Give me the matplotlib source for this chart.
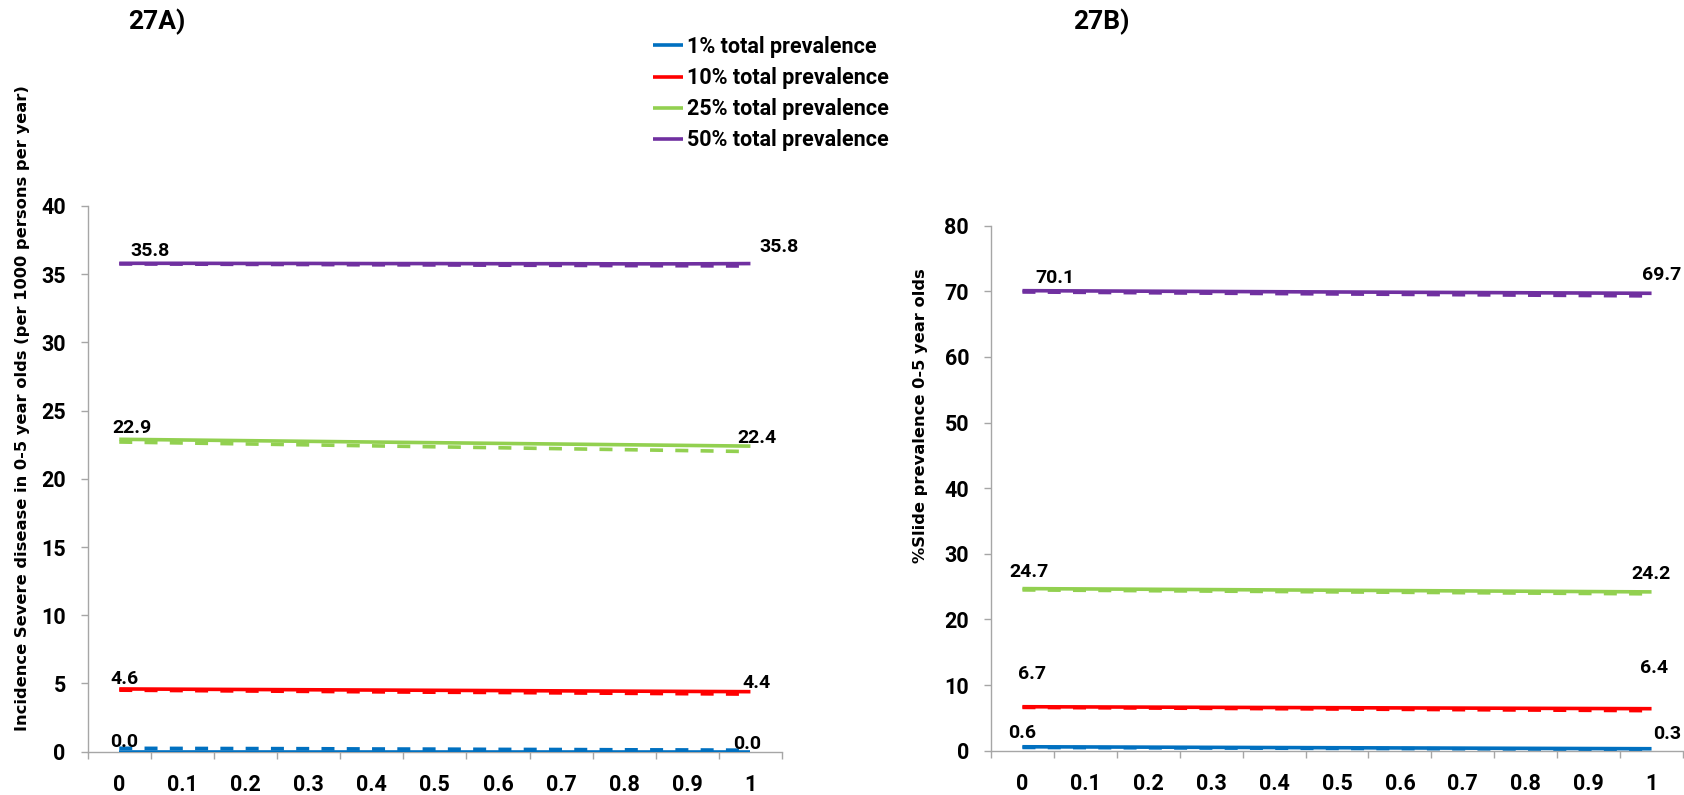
import matplotlib
matplotlib.use("Agg")
import matplotlib.pyplot as plt

# ---------------- data ----------------
x_labels = ['0', '0.1', '0.2', '0.3', '0.4', '0.5', '0.6', '0.7', '0.8', '0.9', '1']
series_names = ['1% total prevalence', '10% total prevalence',
                '25% total prevalence', '50% total prevalence']

# 27A) Incidence of severe disease (solid / dashed variants)
A_blue_solid = [0.0, 0.0, 0.0, 0.0, 0.0, 0.0, 0.0, 0.0, 0.0, 0.0, 0.0]
A_blue_dash = [0.25, 0.24, 0.23, 0.22, 0.20, 0.19, 0.17, 0.16, 0.14, 0.13, 0.11]
A_red_solid = [4.6, 4.58, 4.56, 4.54, 4.52, 4.5, 4.48, 4.46, 4.44, 4.42, 4.4]
A_red_dash = [4.51, 4.48, 4.45, 4.42, 4.39, 4.36, 4.34, 4.31, 4.28, 4.25, 4.22]
A_green_solid = [22.9, 22.85, 22.8, 22.75, 22.7, 22.65, 22.6, 22.55, 22.5, 22.45, 22.4]
A_green_dash = [22.7, 22.63, 22.56, 22.49, 22.42, 22.35, 22.28, 22.21, 22.14, 22.07, 22.0]
A_purple_solid = [35.8, 35.8, 35.79, 35.79, 35.78, 35.78, 35.77, 35.77, 35.76, 35.76, 35.78]
A_purple_dash = [35.75, 35.74, 35.72, 35.71, 35.69, 35.68, 35.66, 35.65, 35.63, 35.62, 35.6]

# 27B) Slide prevalence
B_blue_solid = [0.6, 0.57, 0.54, 0.51, 0.48, 0.45, 0.42, 0.39, 0.36, 0.33, 0.3]
B_blue_dash = [0.5, 0.47, 0.44, 0.41, 0.38, 0.35, 0.32, 0.29, 0.26, 0.23, 0.2]
B_red_solid = [6.7, 6.67, 6.64, 6.61, 6.58, 6.55, 6.52, 6.49, 6.46, 6.43, 6.4]
B_red_dash = [6.6, 6.55, 6.5, 6.45, 6.4, 6.35, 6.3, 6.25, 6.2, 6.15, 6.1]
B_green_solid = [24.7, 24.65, 24.6, 24.55, 24.5, 24.45, 24.4, 24.35, 24.3, 24.25, 24.2]
B_green_dash = [24.5, 24.44, 24.38, 24.32, 24.26, 24.2, 24.14, 24.08, 24.02, 23.96, 23.9]
B_purple_solid = [70.1, 70.06, 70.02, 69.98, 69.94, 69.9, 69.86, 69.82, 69.78, 69.74, 69.7]
B_purple_dash = [69.9, 69.84, 69.78, 69.72, 69.66, 69.6, 69.54, 69.48, 69.42, 69.36, 69.3]

A_solid = [A_blue_solid, A_red_solid, A_green_solid, A_purple_solid]
A_dash = [A_blue_dash, A_red_dash, A_green_dash, A_purple_dash]
B_solid = [B_blue_solid, B_red_solid, B_green_solid, B_purple_solid]
B_dash = [B_blue_dash, B_red_dash, B_green_dash, B_purple_dash]

colors = ['#0070C0', '#FF0000', '#92D050', '#7030A0']

# label offsets in pixels (dx, dy) for start / end labels
A_offsets = [((5, 10), (-3, 8)), ((5, 10), (6, 9)), ((13, 11), (7, 8)), ((31, 12), (29, 17))]
B_offsets = [((0, 14), (16, 15)), ((10, 33), (3, 41)), ((7, 17), (-1, 18)), ((32, 13), (10, 18))]

FONT = ['Roboto', 'DejaVu Sans']

W, H = 1684, 795
DPI = 100
fig = plt.figure(figsize=(W / DPI, H / DPI), dpi=DPI)


def px2pt(v):
    return v * 72.0 / DPI


def make_axes(rect, solids, dashes, offsets, ymax, ystep):
    ax = fig.add_axes(rect)
    xs = list(range(len(x_labels)))
    lines = []
    for s, d, c, off in zip(solids, dashes, colors, offsets):
        ax.plot(xs, d, color=c, lw=2.6, dashes=(3.6, 3.4), solid_capstyle='butt',
                dash_capstyle='butt', zorder=2)
        ln, = ax.plot(xs, s, color=c, lw=2.6, solid_capstyle='butt', zorder=3)
        lines.append(ln)
        for idx, (dx, dy) in zip((0, len(xs) - 1), off):
            ax.annotate(f"{s[idx]:.1f}", (xs[idx], s[idx]),
                        xytext=(px2pt(dx), px2pt(dy)), textcoords='offset points',
                        ha='center', va='center', fontsize=14, fontweight='bold',
                        family=FONT, zorder=4)
    ax.set_xlim(-0.5, len(xs) - 0.5)
    ax.set_ylim(0, ymax)
    ax.set_yticks(range(0, ymax + 1, ystep))
    ax.set_xticks(xs)
    ax.set_xticklabels(x_labels)
    ax.set_xticks([i - 0.5 for i in range(len(xs) + 1)], minor=True)
    ax.tick_params(axis='x', which='major', length=0, pad=px2pt(22))
    ax.tick_params(axis='x', which='minor', length=px2pt(7), width=1, color='#A6A6A6',
                   direction='out')
    ax.tick_params(axis='y', length=px2pt(7), width=1, color='#A6A6A6',
                   direction='out', pad=px2pt(15))
    for lab in ax.get_xticklabels() + ax.get_yticklabels():
        lab.set_fontfamily(FONT)
        lab.set_fontweight('bold')
        lab.set_fontsize(15.5)
    for sp in ('top', 'right'):
        ax.spines[sp].set_visible(False)
    for sp in ('left', 'bottom'):
        ax.spines[sp].set_color('#A6A6A6')
        ax.spines[sp].set_linewidth(1)
    ax.set_facecolor('none')
    return ax, lines


def rect_from_px(x0, x1, ytop, ybot):
    return [x0 / W, 1 - ybot / H, (x1 - x0) / W, (ybot - ytop) / H]


axA, linesA = make_axes(rect_from_px(87.7, 782, 206, 751.7), A_solid, A_dash, A_offsets, 40, 5)
axB, linesB = make_axes(rect_from_px(991, 1683, 225.7, 750.7), B_solid, B_dash, B_offsets, 80, 10)

# y labels
fig.text(23 / W, 1 - 408 / H,
         'Incidence Severe disease in 0-5 year olds (per 1000 persons per year)',
         rotation=90, ha='center', va='center', fontsize=11.7, fontweight='bold',
         family='DejaVu Sans')
fig.text(920 / W, 1 - 416 / H, '%Slide prevalence 0-5 year olds',
         rotation=90, ha='center', va='center', fontsize=11.7, fontweight='bold',
         family='DejaVu Sans')

# titles
fig.text(128 / W, 1 - 22 / H, '27A)', ha='left', va='center', fontsize=19,
         fontweight='bold', family=FONT)
fig.text(1073 / W, 1 - 22 / H, '27B)', ha='left', va='center', fontsize=19,
         fontweight='bold', family=FONT)

# legend
leg = fig.legend(linesA, series_names, loc='upper left',
                 bbox_to_anchor=(653 / W, 1 - 36 / H), frameon=False,
                 prop={'family': FONT, 'weight': 'bold', 'size': 15.5},
                 handlelength=1.4, handletextpad=0.18, labelspacing=0.42,
                 borderpad=0, borderaxespad=0)

fig.savefig('out.png', dpi=DPI)
